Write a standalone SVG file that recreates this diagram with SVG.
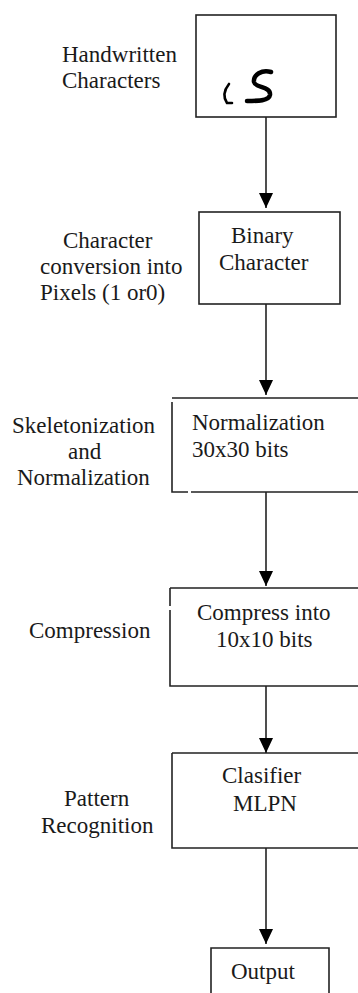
<svg xmlns="http://www.w3.org/2000/svg" width="358" height="993" viewBox="0 0 358 993">
<style>
text{font-size:23px;fill:#1a1a1a}
.box{fill:none;stroke:#222;stroke-width:1.6}
.conn{stroke:#222;stroke-width:1.6;fill:none}
.hw{fill:none;stroke:#000;stroke-linecap:round}
</style>
<defs>
<marker id="ah" markerUnits="userSpaceOnUse" markerWidth="16" markerHeight="16" refX="15" refY="7" orient="auto" viewBox="0 0 16 14">
<path d="M0,0 L15,7 L0,14 Z" fill="#000"/>
</marker>
</defs>
<rect width="358" height="993" fill="#fff"/>
<g font-family="'Liberation Serif', 'DejaVu Serif', serif">
<g id="labels">
<text x="62" y="62">Handwritten</text>
<text x="62" y="88">Characters</text>
<text x="63" y="248">Character</text>
<text x="40" y="274">conversion into</text>
<text x="40" y="300">Pixels (1 or0)</text>
<text x="12" y="433">Skeletonization</text>
<text x="68" y="459">and</text>
<text x="17" y="485">Normalization</text>
<text x="29" y="638">Compression</text>
<text x="64" y="806">Pattern</text>
<text x="41" y="833">Recognition</text>
</g>
<g id="node-handwritten">
<rect class="box" x="196" y="15" width="140" height="102"/>
<path class="hw" stroke-width="2.6" d="M229,84 Q221,94 227,103 L232,103"/>
<path class="hw" stroke-width="4.5" d="M271,72 C262,69 253,75 254,82 C255,88 271,86 270,95 C269,101 258,101 247,101"/>
</g>
<g id="node-binary">
<rect class="box" x="199" y="212" width="141" height="92"/>
<text x="231" y="243">Binary</text>
<text x="219" y="270">Character</text>
</g>
<g id="node-normalization">
<path class="box" d="M172,398 L360,398 M172,402 L172,492 L188,492 M191,492 L360,492"/>
<text x="192" y="430">Normalization</text>
<text x="192" y="457">30x30 bits</text>
</g>
<g id="node-compress">
<path class="box" d="M170,588 L360,588 M170,588 L170,606 M170,610 L170,686 L360,686"/>
<text x="197" y="620">Compress into</text>
<text x="216" y="647">10x10 bits</text>
</g>
<g id="node-classifier">
<path class="box" d="M172,753 L360,753 M172,753 L172,848 L360,848"/>
<text x="222" y="783">Clasifier</text>
<text x="233" y="811">MLPN</text>
</g>
<g id="node-output">
<path class="box" d="M211,1000 L211,948 L329,948 L329,1000"/>
<text x="231" y="979">Output</text>
</g>
</g>
<g id="connectors">
<line class="conn" x1="266" y1="117" x2="266" y2="208" marker-end="url(#ah)"/>
<line class="conn" x1="266" y1="304" x2="266" y2="395" marker-end="url(#ah)"/>
<line class="conn" x1="266" y1="492" x2="266" y2="586" marker-end="url(#ah)"/>
<line class="conn" x1="266" y1="686" x2="266" y2="753" marker-end="url(#ah)"/>
<line class="conn" x1="266" y1="848" x2="266" y2="944" marker-end="url(#ah)"/>
</g>
</svg>
